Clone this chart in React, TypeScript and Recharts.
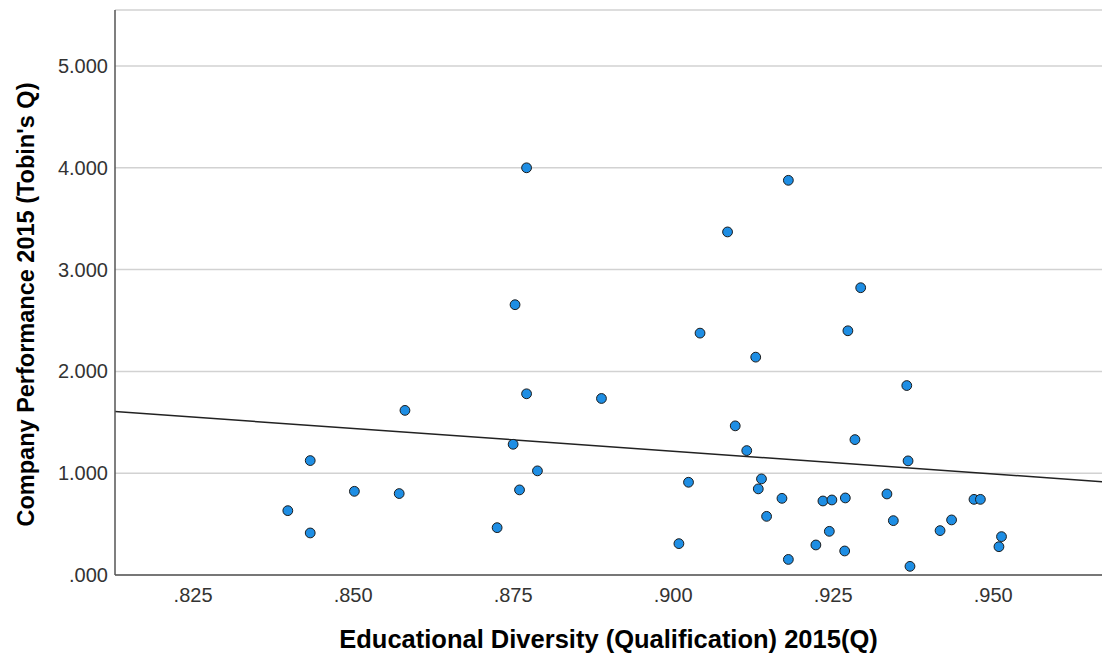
import { CartesianGrid, ReferenceLine, Scatter, ScatterChart, XAxis, YAxis } from 'recharts';

// Educational diversity (x) vs Tobin's Q (y)
const diversity = [
  0.8398, 0.8433, 0.8433, 0.8502, 0.8572, 0.8581, 0.8771, 0.9085, 0.8753, 0.9042,
  0.8771, 0.8888, 0.9097, 0.9115, 0.875, 0.8788, 0.9024, 0.876, 0.8725, 0.9009,
  0.918, 0.9293, 0.9273, 0.9129, 0.9365, 0.9284, 0.9367, 0.9138, 0.9133, 0.917,
  0.9234, 0.9248, 0.9269, 0.9334, 0.947, 0.948, 0.9146, 0.9344, 0.9435, 0.9244,
  0.9417, 0.9513, 0.9509, 0.9223, 0.9268, 0.918, 0.937,
];
const tobinsQ = [
  0.632, 1.124, 0.413, 0.822, 0.8, 1.617, 4.0, 3.37, 2.655, 2.376,
  1.78, 1.734, 1.465, 1.222, 1.284, 1.023, 0.911, 0.836, 0.465, 0.308,
  3.877, 2.822, 2.399, 2.14, 1.861, 1.33, 1.121, 0.944, 0.846, 0.753,
  0.727, 0.737, 0.757, 0.796, 0.743, 0.743, 0.576, 0.534, 0.541, 0.429,
  0.436, 0.377, 0.278, 0.295, 0.236, 0.153, 0.085,
];

const xTicks = [0.825, 0.85, 0.875, 0.9, 0.925, 0.95];
const yTicks = [0, 1, 2, 3, 4, 5];

// fit line endpoints at the plot edges
const fitX = [0.8128, 0.967];
const fitY = [1.606, 0.917];

const points = diversity.map((x, i) => ({ x, y: tobinsQ[i] }));

const fmt = (v: number) => v.toFixed(3).replace(/^0/, '');

const FONT = 'Liberation Sans, Arial, sans-serif';
const tickStyle = { fill: '#333', fontSize: 20, fontFamily: FONT };

const Dot = (p: any) => (
  <circle cx={p.cx} cy={p.cy} r={4.9} fill="#1e8ee4" stroke="#1c1c1c" strokeWidth={1} />
);

const YTitle = (props: any) => {
  const vb = props.viewBox;
  const cy = vb.y + vb.height / 2 + 12;
  return (
    <text
      x={26}
      y={cy}
      transform={`rotate(-90 26 ${cy})`}
      textAnchor="middle"
      dominantBaseline="central"
      fontSize={23.5}
      fontWeight="bold"
      fontFamily={FONT}
      fill="#000"
    >
      Company Performance 2015 (Tobin's Q)
    </text>
  );
};

export default function App() {
  return (
    <div style={{ position: 'absolute', top: 0, left: 0, background: '#fff' }}>
      <ScatterChart width={1102} height={656} margin={{ top: 10, right: 0, bottom: 0, left: 0 }}>
        <CartesianGrid vertical={false} stroke="#d2d2d2" strokeWidth={1.5} />
        <XAxis
          type="number"
          dataKey="x"
          domain={[0.8128, 0.967]}
          ticks={xTicks}
          tickFormatter={fmt}
          allowDataOverflow
          height={81}
          tickLine={false}
          tickSize={6}
          tickMargin={7}
          stroke="#555"
          strokeWidth={1.5}
          tick={tickStyle}
          label={{
            value: 'Educational Diversity (Qualification) 2015(Q)',
            position: 'insideBottom',
            offset: 8,
            fontSize: 25.5,
            fontWeight: 'bold',
            fill: '#000',
            fontFamily: FONT,
          }}
        />
        <YAxis
          type="number"
          dataKey="y"
          domain={[0, 5.55]}
          ticks={yTicks}
          tickFormatter={fmt}
          allowDataOverflow
          width={115}
          tickLine={false}
          tickSize={6}
          tickMargin={1}
          stroke="#555"
          strokeWidth={1.5}
          tick={tickStyle}
          label={<YTitle />}
        />
        <ReferenceLine
          segment={[
            { x: fitX[0], y: fitY[0] },
            { x: fitX[1], y: fitY[1] },
          ]}
          stroke="#222"
          strokeWidth={1.5}
          ifOverflow="visible"
        />
        <Scatter data={points} shape={Dot} isAnimationActive={false} />
      </ScatterChart>
    </div>
  );
}
